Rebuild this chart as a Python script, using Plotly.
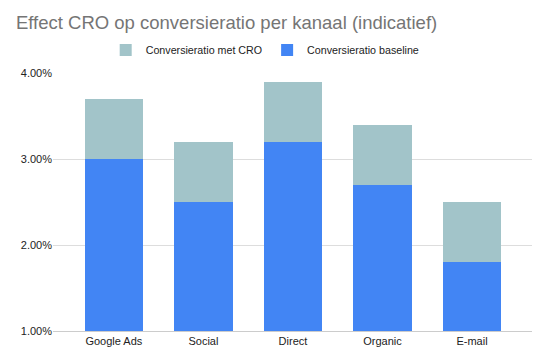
import plotly.graph_objects as go

categories = ["Google Ads", "Social", "Direct", "Organic", "E-mail"]
baseline = [3.0, 2.5, 3.2, 2.7, 1.8]
met_cro = [3.7, 3.2, 3.9, 3.4, 2.5]
increment = [round(t - b, 4) for t, b in zip(met_cro, baseline)]
tick_vals = [1, 2, 3, 4]
tick_text = ["1.00%", "2.00%", "3.00%", "4.00%"]

fig = go.Figure()
fig.add_trace(go.Bar(x=categories, y=baseline, name="Conversieratio baseline",
                     marker=dict(color="#4285F4", line=dict(width=0)), width=0.65))
fig.add_trace(go.Bar(x=categories, y=increment, name="Conversieratio met CRO",
                     marker=dict(color="#A2C4C9", line=dict(width=0)), width=0.65))

fig.update_layout(
    barmode="stack",
    width=532, height=351,
    paper_bgcolor="white", plot_bgcolor="white",
    margin=dict(l=45, r=8, t=65, b=28, autoexpand=False),
    font=dict(family="Arial, Liberation Sans, sans-serif", size=11, color="#222222"),
    title=dict(text="Effect CRO op conversieratio per kanaal (indicatief)",
               x=0.015, xanchor="left", y=0.96, yanchor="middle",
               font=dict(size=18.5, color="#757575")),
    legend=dict(orientation="h",
                x=0.443, xanchor="center", y=1.089, yanchor="middle",
                traceorder="reversed", font=dict(size=10.7, color="#222222"),
                itemwidth=30),
    showlegend=True,
)
fig.update_xaxes(range=[-0.68, 4.67], showgrid=False, showline=True, linecolor="#cccccc",
                 ticks="", automargin=False, tickfont=dict(size=11, color="#222222"))
fig.update_yaxes(range=[1, 4], tickvals=tick_vals, ticktext=tick_text, showgrid=True,
                 gridcolor="#dddddd", zeroline=False, showline=False, ticks="",
                 automargin=False, tickfont=dict(size=11, color="#222222"))

fig.write_html("out.html")
